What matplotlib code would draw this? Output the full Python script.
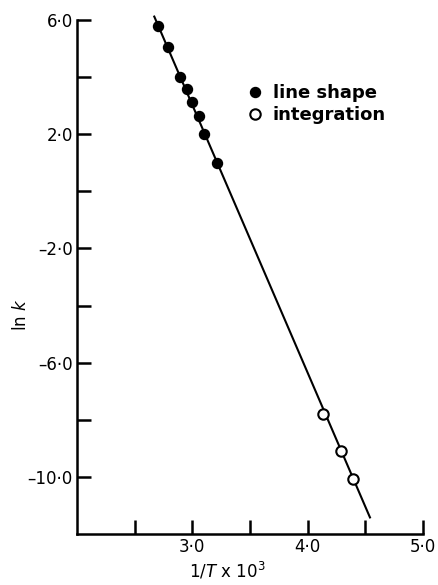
import matplotlib
matplotlib.use("Agg")
import matplotlib.pyplot as plt

# measured points, ln k against 1/T x 10^3
shape_x = [2.70, 2.79, 2.89, 2.95, 3.00, 3.06, 3.10, 3.21]
shape_y = [5.79, 5.05, 4.02, 3.60, 3.12, 2.64, 2.00, 0.99]
integ_x = [4.13, 4.29, 4.39]
integ_y = [-7.81, -9.09, -10.08]

# fitted straight line
fit_x = [2.67, 4.54]
fit_y = [6.12, -11.42]

x_ticks = [2.5, 3.0, 3.5, 4.0, 4.5, 5.0]
x_labels = ["", "3·0", "", "4·0", "", "5·0"]
y_ticks = [6, 4, 2, 0, -2, -4, -6, -8, -10]
y_labels = ["6·0", "", "2·0", "", "–2·0", "", "–6·0", "", "–10·0"]

plt.rcParams['font.family'] = ['DejaVu Sans']

fig = plt.figure(figsize=(4.38, 5.85), dpi=100)
ax = fig.add_axes([0.1758, 0.0872, 0.79, 0.8786])

ax.plot(fit_x, fit_y, color='black', lw=1.5, clip_on=False, zorder=2)
ax.plot(shape_x, shape_y, 'o', color='black', ms=7.2, clip_on=False,
        zorder=3, label='line shape')
ax.plot(integ_x, integ_y, 'o', mfc='white', mec='black', mew=1.5, ms=7.5,
        clip_on=False, zorder=3, label='integration')

ax.set_xlim(2.0, 5.0)
ax.set_ylim(-12, 6)
ax.set_xticks(x_ticks)
ax.set_xticklabels(x_labels)
ax.set_yticks(y_ticks)
ax.set_yticklabels(y_labels)

for s in ['top', 'right']:
    ax.spines[s].set_visible(False)
for s in ['left', 'bottom']:
    ax.spines[s].set_linewidth(1.8)

ax.tick_params(direction='in', length=10, width=1.8, labelsize=12)
ax.tick_params(axis='x', pad=3)
ax.tick_params(axis='y', pad=3)

ax.set_ylabel(r'ln $k$', fontsize=12)
ax.yaxis.set_label_coords(-0.136, 0.426)
ax.set_xlabel(r'1/$T$ x 10$^3$', fontsize=12)
ax.xaxis.set_label_coords(0.434, -0.052)

ax.legend(loc='upper left', bbox_to_anchor=(0.488, 0.875), frameon=False,
          borderpad=0, borderaxespad=0, handlelength=1, handletextpad=0.5,
          labelspacing=0.2, prop={'size': 13, 'weight': 'bold'})

fig.savefig('out.png', dpi=100)
